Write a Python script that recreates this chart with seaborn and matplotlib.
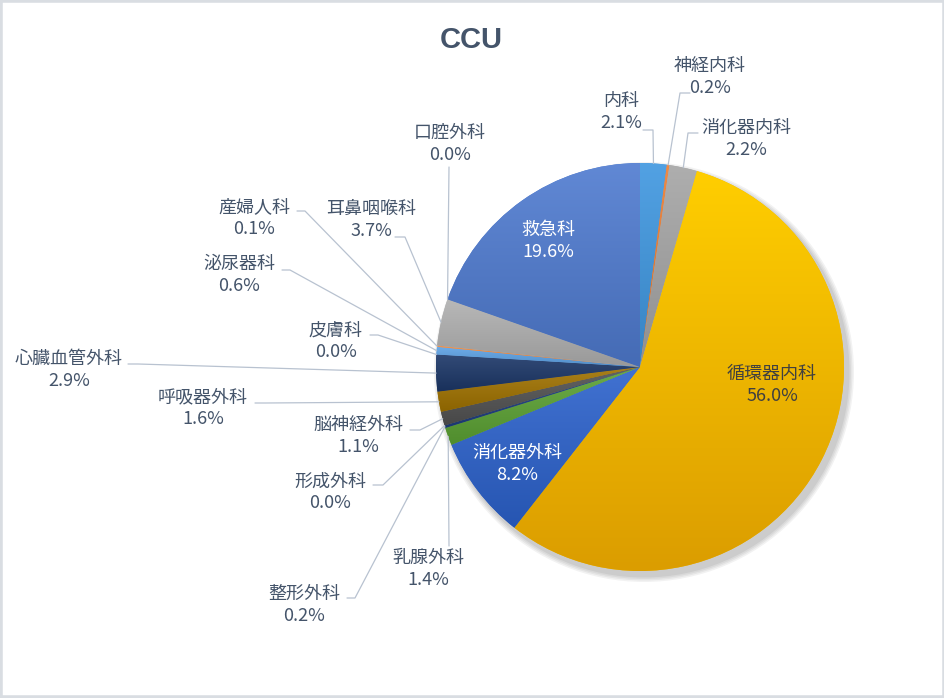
import numpy as np
import matplotlib
matplotlib.use("Agg")
import matplotlib.pyplot as plt
import seaborn as sns
from matplotlib.patches import Rectangle, Circle

sns.set_theme(style="white")
plt.rcParams['font.family'] = ['Noto Sans CJK JP', 'DejaVu Sans']

# data (clockwise from 12 o'clock)
labels = ["内科", "神経内科", "消化器内科", "循環器内科", "消化器外科", "乳腺外科",
          "整形外科", "形成外科", "脳神経外科", "呼吸器外科", "心臓血管外科", "皮膚科",
          "泌尿器科", "産婦人科", "耳鼻咽喉科", "口腔外科", "救急科"]
values = [2.1, 0.2, 2.2, 56.0, 8.2, 1.4, 0.2, 0.0, 1.1, 1.6, 2.9, 0.0, 0.6, 0.1, 3.7, 0.0, 19.6]
colors = ["#3F97E0", "#ED7D31", "#A5A5A5", "#F2BA00", "#2C62CC", "#5CA234",
          "#1F3F80", "#9E480E", "#525252", "#A07200", "#1C3768", "#43682B",
          "#5EA3E6", "#F08A40", "#B0B0B0", "#FFCD33", "#4F7BD0"]
title = "CCU"

# gradient overrides (top, bottom) for slices that need it
grad_override = {"循環器内科": ("#FFCE00", "#DB9D00")}

# layout in pixels: text centre, leader anchor, elbow (None = inside label)
CX, CY, R = 640, 367, 204
W, H = 945, 698
label_layout = {
    "内科": ((621, 112), (643, 130), (653, 130)),
    "神経内科": ((710, 77), (690, 93), (680, 93)),
    "消化器内科": ((746, 139), (698, 133), (688, 133)),
    "循環器内科": ((772, 385), None, None),
    "消化器外科": ((517, 464), None, None),
    "乳腺外科": ((428, 569), (449, 546), None),
    "整形外科": ((304, 605), (347, 598), (355, 598)),
    "形成外科": ((330, 492), (373, 485), (383, 485)),
    "脳神経外科": ((358, 436), (410, 430), (420, 430)),
    "呼吸器外科": ((203, 408), (255, 403), (265, 403)),
    "心臓血管外科": ((69, 370), (128, 364), (138, 364)),
    "皮膚科": ((336, 341), (370, 335), (378, 335)),
    "泌尿器科": ((239, 275), (282, 270), (290, 270)),
    "産婦人科": ((254, 218), (297, 211), (305, 211)),
    "耳鼻咽喉科": ((371, 220), (395, 237), (405, 237)),
    "口腔外科": ((450, 144), (449, 167), None),
    "救急科": ((548, 241), None, None),
}
inside_color = {"循環器内科": "#404040", "消化器外科": "white", "救急科": "white"}


def px(p):
    return ((p[0] - CX) / R, (CY - p[1]) / R)


def mix(c, other, t):
    c = np.array(matplotlib.colors.to_rgb(c))
    return (1 - t) * c + t * np.array(other)


fig = plt.figure(figsize=(W / 100, H / 100), dpi=100)
ax = fig.add_axes([0, 0, 1, 1])

# soft shadow under the pie
for i, a in enumerate([0.05, 0.05, 0.05, 0.06]):
    ax.add_patch(Circle((4 / R, -5 / R), 1 + (4 - i) * 1.5 / R, color="black", alpha=a, lw=0, zorder=0))

wedges, _ = ax.pie(values, colors=colors, startangle=90, counterclock=False,
                   radius=1, center=(0, 0), wedgeprops=dict(linewidth=0))

# excel-like vertical gradient inside each slice
for w, name, v, c in zip(wedges, labels, values, colors):
    if v <= 0:
        continue
    ext = w.get_path().get_extents()
    if name in grad_override:
        top = np.array(matplotlib.colors.to_rgb(grad_override[name][0]))
        bot = np.array(matplotlib.colors.to_rgb(grad_override[name][1]))
    else:
        top = mix(c, (1, 1, 1), 0.10)
        bot = mix(c, (0, 0, 0), 0.13)
    t = np.linspace(0, 1, 256)[:, None]
    grad = (bot[None, :] * (1 - t) + top[None, :] * t)[:, None, :]
    im = ax.imshow(grad, extent=(ext.x0, ext.x1, ext.y0, ext.y1), origin="lower",
                   aspect="auto", interpolation="bilinear", zorder=2)
    im.set_clip_path(w)
    w.set_zorder(1)

# labels and leader lines
total = sum(values)
cum = np.cumsum([0] + values[:-1])
for name, v, start in zip(labels, values, cum):
    (tpos, anchor, elbow) = label_layout[name]
    txt = f"{name}\n{v:.1f}%"
    if anchor is None:
        ax.text(*px(tpos), txt, ha="center", va="center", color=inside_color[name],
                fontsize=13, linespacing=1.25, zorder=5)
        continue
    ax.text(*px(tpos), txt, ha="center", va="center", color="#44546A",
            fontsize=13, linespacing=1.25, zorder=5)
    ang = np.deg2rad(90 - 360 * (start + v / 2) / total)
    edge = (np.cos(ang), np.sin(ang))
    pts = [px(anchor)]
    if elbow is not None:
        pts.append(px(elbow))
    pts.append(edge)
    xs, ys = zip(*pts)
    ax.plot(xs, ys, color="#B8C2D0", lw=0.9, zorder=3)

ax.set_xlim(-CX / R, (W - CX) / R)
ax.set_ylim((CY - H) / R, CY / R)
ax.set_aspect("auto")
ax.axis("off")

fig.text(471 / W, 1 - 40 / H, title, ha="center", va="center", fontsize=21,
         fontweight="bold", color="#44546A", family="Liberation Sans")
fig.patches.append(Rectangle((0, 0), 1, 1, transform=fig.transFigure, fill=False,
                             edgecolor="#D9DDE2", lw=4))

fig.savefig("out.png", dpi=100, facecolor="white")
